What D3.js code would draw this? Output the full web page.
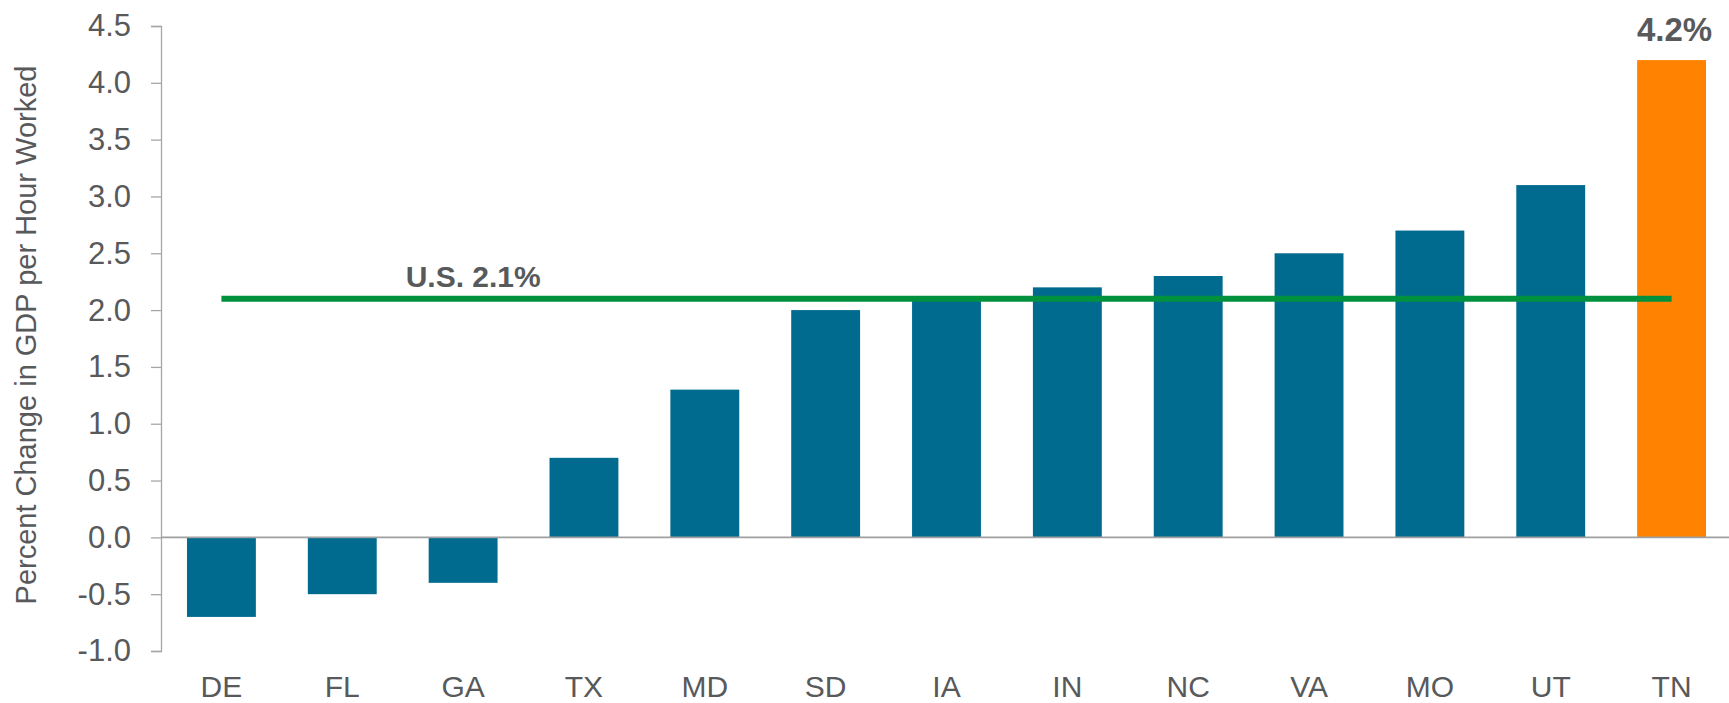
<!DOCTYPE html>
<html>
<head>
<meta charset="utf-8">
<script src="https://cdn.jsdelivr.net/npm/d3@7"></script>
<style>
  html, body { margin: 0; padding: 0; background: #fff; }
  svg text { font-family: "Liberation Sans", Arial, Helvetica, sans-serif; fill: #58595b; }
</style>
</head>
<body>
<div id="chart"></div>
<script>
var states = ["DE", "FL", "GA", "TX", "MD", "SD", "IA", "IN", "NC", "VA", "MO", "UT", "TN"];
var values = [-0.7, -0.5, -0.4, 0.7, 1.3, 2.0, 2.1, 2.2, 2.3, 2.5, 2.7, 3.1, 4.2];
var yTicks = [-1.0, -0.5, 0.0, 0.5, 1.0, 1.5, 2.0, 2.5, 3.0, 3.5, 4.0, 4.5];
var usAvg = 2.1;
var usLabel = "U.S. 2.1%";
var highlight = "TN";

var W = 1729, H = 703,
    margin = { top: 26, right: -3, bottom: 52, left: 161 },
    width = W - margin.left - margin.right,
    height = H - margin.top - margin.bottom;

var fmt = function (d) { return d3.format(".1f")(d).replace("\u2212", "-"); };

var svg = d3.select("#chart").append("svg")
    .attr("width", W)
    .attr("height", H)
    .append("g")
    .attr("transform", "translate(" + margin.left + "," + margin.top + ")");

var x = d3.scaleBand()
    .domain(states)
    .range([0, width])
    .paddingInner(.43)
    .paddingOuter(.215);

var y = d3.scaleLinear()
    .domain([-1, 4.5])
    .range([height, 0]);

// y axis
var yAxis = svg.append("g")
    .call(d3.axisLeft(y).tickValues(yTicks).tickFormat(fmt).tickSize(10).tickPadding(20));
yAxis.select(".domain").attr("stroke", "#a6a6a6").attr("stroke-width", 1.3);
yAxis.selectAll(".tick line").attr("stroke", "#a6a6a6").attr("stroke-width", 1.3);
yAxis.selectAll(".tick text").style("font-size", "31px").attr("fill", "#58595b");

// x labels
var xAxis = svg.append("g")
    .attr("transform", "translate(0," + height + ")")
    .call(d3.axisBottom(x).tickSize(0).tickPadding(25));
xAxis.select(".domain").remove();
xAxis.selectAll(".tick text").style("font-size", "30px").attr("fill", "#58595b");

// bars
svg.selectAll(".bar")
    .data(states)
    .enter().append("rect")
    .attr("class", "bar")
    .attr("x", function (d) { return x(d); })
    .attr("width", x.bandwidth())
    .attr("y", function (d, i) { return y(Math.max(0, values[i])); })
    .attr("height", function (d, i) { return Math.abs(y(values[i]) - y(0)); })
    .attr("fill", function (d) { return d == highlight ? "#ff8200" : "#006b8f"; });

// zero line
svg.append("line")
    .attr("x1", 0)
    .attr("x2", W - margin.left)
    .attr("y1", y(0))
    .attr("y2", y(0))
    .attr("stroke", "#a0a0a0")
    .attr("stroke-width", 1.6);

// U.S. average line
svg.append("line")
    .attr("x1", x(states[0]) + x.bandwidth() / 2)
    .attr("x2", x(states[states.length - 1]) + x.bandwidth() / 2)
    .attr("y1", y(usAvg))
    .attr("y2", y(usAvg))
    .attr("stroke", "#00913f")
    .attr("stroke-width", 6);

svg.append("text")
    .attr("x", x(states[2]) - 23)
    .attr("y", y(usAvg) - 12)
    .style("font-size", "30px")
    .style("font-weight", "bold")
    .attr("fill", "#58595b")
    .text(usLabel);

// highlight value label
var hi = states.indexOf(highlight);
svg.append("text")
    .attr("x", x(highlight) + x.bandwidth() / 2 + 3)
    .attr("y", y(values[hi]) - 19)
    .attr("text-anchor", "middle")
    .style("font-size", "33px")
    .style("font-weight", "bold")
    .text(fmt(values[hi]) + "%");

// y axis title
svg.append("text")
    .attr("transform", "translate(" + (36 - margin.left) + "," + (335 - margin.top) + ") rotate(-90)")
    .attr("text-anchor", "middle")
    .style("font-size", "29px")
    .text("Percent Change in GDP per Hour Worked");
</script>
</body>
</html>
